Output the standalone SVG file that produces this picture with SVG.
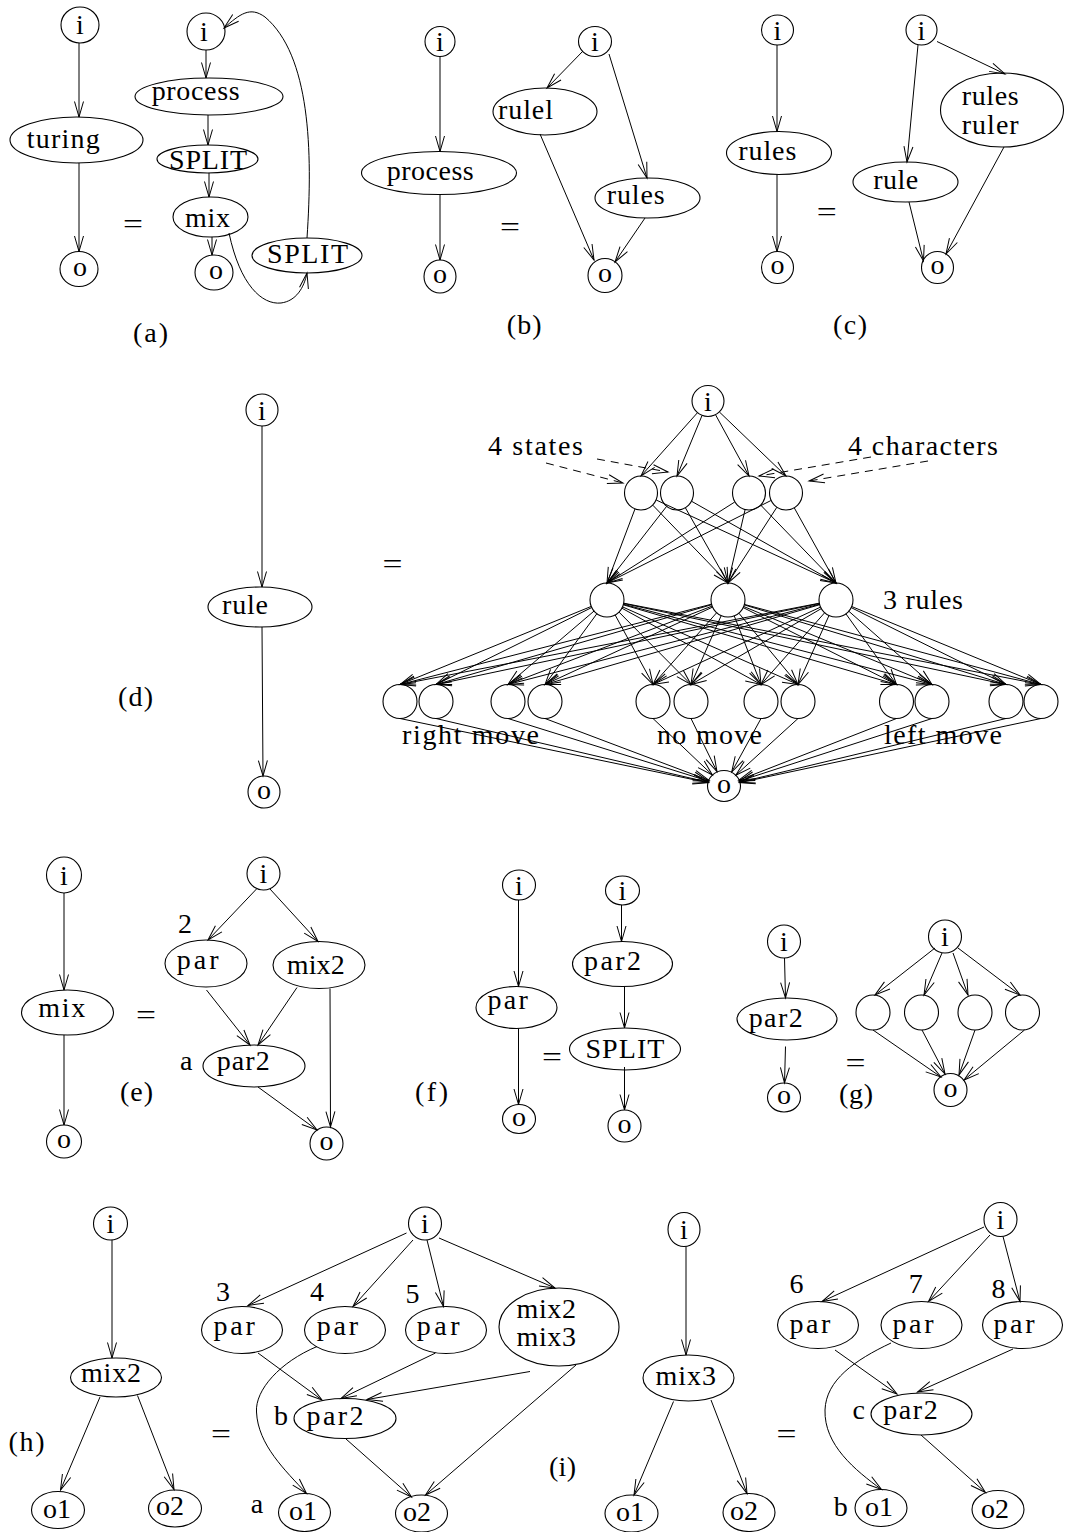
<svg xmlns="http://www.w3.org/2000/svg" width="1065" height="1532" viewBox="0 0 1065 1532">
<defs>
<style>
.n{fill:none;stroke:#000;stroke-width:1.1}
.e{fill:none;stroke:#000;stroke-width:1;marker-end:url(#ah)}
.d{stroke-dasharray:8 6}
text{font-family:"Liberation Serif","Times New Roman",serif;font-size:28px;fill:#000}
.c{text-anchor:middle}
.eq{font-size:28px;text-anchor:middle}
</style>
<marker id="ah" markerUnits="userSpaceOnUse" viewBox="0 0 16 10" markerWidth="16" markerHeight="10" refX="15.5" refY="5" orient="auto" overflow="visible">
<path d="M0,0.5 L15.5,5 L0,9.5" fill="none" stroke="#000" stroke-width="1"/>
</marker>
</defs>
<rect width="1065" height="1532" fill="#fff"/>

<g id="connectors">
<!-- (a) -->
<path class="e" d="M79,43 L79,117"/>
<path class="e" d="M79,163 L79,251.5"/>
<path class="e" d="M206,50 L206,78"/>
<path class="e" d="M208,115 L208,145"/>
<path class="e" d="M209,173 L209,197"/>
<path class="e" d="M212,237 L212,255"/>
<path class="e" d="M229,233 C240,285 262,305 281,303 C296,301 304,288 307,273"/>
<path class="e" d="M307,238 C313,150 310,55 265,17 C250,6 240,14 224,28"/>
<!-- (b) -->
<path class="e" d="M440,56.5 L440,151.5"/>
<path class="e" d="M440,194.5 L440,260"/>
<path class="e" d="M583,51 L547,88"/>
<path class="e" d="M609,54 L647,178"/>
<path class="e" d="M540,134 L594,260"/>
<path class="e" d="M645,218 L615,262"/>
<!-- (c) -->
<path class="e" d="M777,45 L777,131.5"/>
<path class="e" d="M777,174.5 L777,251.5"/>
<path class="e" d="M918,45 L907,162"/>
<path class="e" d="M937,41.5 L1005,74"/>
<path class="e" d="M909,202 L923.5,261"/>
<path class="e" d="M1004,147 L946,254"/>
<!-- (d) left -->
<path class="e" d="M262,426 L262,587"/>
<path class="e" d="M262,627 L263,776"/>
<!-- (d) network: i -> states/characters -->
<path class="e" d="M697.3,412.9 L641,476"/>
<path class="e" d="M701.9,415.8 L677,476"/>
<path class="e" d="M715.7,415 L749,476"/>
<path class="e" d="M719.5,412.1 L786,476"/>
<!-- top -> rules -->
<path class="e" d="M635,508.9 L607,583"/>
<path class="e" d="M652.8,505.2 L728,583"/>
<path class="e" d="M656.4,500.1 L836,583"/>
<path class="e" d="M666.6,506.4 L607,583"/>
<path class="e" d="M685.4,507.8 L728,583"/>
<path class="e" d="M691.8,501.4 L836,583"/>
<path class="e" d="M734.6,502.1 L607,583"/>
<path class="e" d="M745.1,509.6 L728,583"/>
<path class="e" d="M760.8,505.2 L836,583"/>
<path class="e" d="M770.8,500.6 L607,583"/>
<path class="e" d="M776.8,507.3 L728,583"/>
<path class="e" d="M794.3,507.9 L836,583"/>
<!-- rules -> moves -->
<path class="e" d="M591.3,606.4 L400,684.5"/>
<path class="e" d="M591.8,607.5 L436,684.5"/>
<path class="e" d="M594.1,611 L508,684.5"/>
<path class="e" d="M596.9,613.7 L545,684.5"/>
<path class="e" d="M615.1,614.9 L653,684.5"/>
<path class="e" d="M619,612.1 L691,684.5"/>
<path class="e" d="M621.9,608.2 L761,684.5"/>
<path class="e" d="M622.5,606.9 L798,684.5"/>
<path class="e" d="M623.3,604.8 L896.5,684.5"/>
<path class="e" d="M623.5,604.3 L932,684.5"/>
<path class="e" d="M623.6,603.5 L1006,684.5"/>
<path class="e" d="M623.7,603.2 L1041,684.5"/>
<path class="e" d="M711.5,604.2 L400,684.5"/>
<path class="e" d="M711.7,604.7 L436,684.5"/>
<path class="e" d="M712.1,606.1 L508,684.5"/>
<path class="e" d="M712.6,607.1 L545,684.5"/>
<path class="e" d="M716.7,612.7 L653,684.5"/>
<path class="e" d="M721.2,615.6 L691,684.5"/>
<path class="e" d="M734.2,615.8 L761,684.5"/>
<path class="e" d="M738.8,613.1 L798,684.5"/>
<path class="e" d="M743.2,607.6 L896.5,684.5"/>
<path class="e" d="M743.7,606.5 L932,684.5"/>
<path class="e" d="M744.3,604.9 L1006,684.5"/>
<path class="e" d="M744.4,604.4 L1041,684.5"/>
<path class="e" d="M819.3,603.2 L400,684.5"/>
<path class="e" d="M819.4,603.5 L436,684.5"/>
<path class="e" d="M819.5,604.2 L508,684.5"/>
<path class="e" d="M819.7,604.7 L545,684.5"/>
<path class="e" d="M820.6,607.1 L653,684.5"/>
<path class="e" d="M821.3,608.6 L691,684.5"/>
<path class="e" d="M824.7,612.7 L761,684.5"/>
<path class="e" d="M829,615.5 L798,684.5"/>
<path class="e" d="M845.9,613.8 L896.5,684.5"/>
<path class="e" d="M848.8,611.2 L932,684.5"/>
<path class="e" d="M851.2,607.6 L1006,684.5"/>
<path class="e" d="M851.7,606.5 L1041,684.5"/>
<!-- moves -> o -->
<path class="e" d="M400,718.5 L708.3,782.7"/>
<path class="e" d="M436,718.5 L708.4,782.3"/>
<path class="e" d="M508,718.5 L708.7,781.2"/>
<path class="e" d="M545,718.5 L709,780.4"/>
<path class="e" d="M653,718.5 L712.4,775"/>
<path class="e" d="M691,718.5 L717,771.6"/>
<path class="e" d="M761,718.5 L731.7,772"/>
<path class="e" d="M798,718.5 L735.8,775.2"/>
<path class="e" d="M896.5,718.5 L738.9,780.2"/>
<path class="e" d="M932,718.5 L739.2,781.1"/>
<path class="e" d="M1006,718.5 L739.6,782.3"/>
<path class="e" d="M1041,718.5 L739.6,782.7"/>
<!-- dashed pointers -->
<path class="e d" d="M546,463 L623,483"/>
<path class="e d" d="M597,459 L668,472"/>
<path class="e d" d="M928,461 L809,481"/>
<path class="e d" d="M871,457 L759,476"/>
<!-- (e) -->
<path class="e" d="M64,893 L64,990"/>
<path class="e" d="M64,1035 L64,1125"/>
<path class="e" d="M256.5,889 L208,940"/>
<path class="e" d="M270,889 L318,941.5"/>
<path class="e" d="M206.5,990 L250,1045"/>
<path class="e" d="M297,987.5 L258,1045"/>
<path class="e" d="M330,988.5 L330.5,1127"/>
<path class="e" d="M258,1087 L317,1130"/>
<!-- (f) -->
<path class="e" d="M518.5,900 L518.5,986.5"/>
<path class="e" d="M518.5,1028.5 L518.5,1104.5"/>
<path class="e" d="M621.5,905 L621.5,941.5"/>
<path class="e" d="M624.5,986.5 L624.5,1028"/>
<path class="e" d="M624.5,1067 L624.5,1110"/>
<!-- (g) -->
<path class="e" d="M784.5,958 L785.5,998"/>
<path class="e" d="M785.5,1046.5 L784.5,1083"/>
<path class="e" d="M935,948 L875,995"/>
<path class="e" d="M942,953 L924,995"/>
<path class="e" d="M953,953 L968,995"/>
<path class="e" d="M958,948 L1020,995"/>
<path class="e" d="M873,1030 L941,1077"/>
<path class="e" d="M922,1030 L945,1074"/>
<path class="e" d="M975,1030 L959,1075"/>
<path class="e" d="M1024.5,1030 L964,1080"/>
<!-- (h) -->
<path class="e" d="M112,1240 L112,1358"/>
<path class="e" d="M100,1397 L60.5,1490"/>
<path class="e" d="M137.5,1395.5 L174,1489.5"/>
<!-- (i) left -->
<path class="e" d="M406.5,1233 L248,1305.5"/>
<path class="e" d="M413,1240 L353,1306.5"/>
<path class="e" d="M427,1240 L443.5,1306.5"/>
<path class="e" d="M439,1238 L555,1288"/>
<path class="e" d="M258,1353 L322,1400"/>
<path class="e" d="M317,1346.5 C280,1362 255,1390 256.5,1412 C258,1445 285,1470 306.5,1493.5"/>
<path class="e" d="M435.5,1353 L341,1398.5"/>
<path class="e" d="M530,1371.5 L367,1399.5"/>
<path class="e" d="M346,1439 L411.5,1497"/>
<path class="e" d="M576,1365 L425.5,1495"/>
<!-- (i) right -->
<path class="e" d="M686,1246.5 L686,1355"/>
<path class="e" d="M673.5,1401.5 L634,1495"/>
<path class="e" d="M711,1400 L747,1493.5"/>
<path class="e" d="M984,1227 L822,1301.5"/>
<path class="e" d="M990,1235 L928.5,1301.5"/>
<path class="e" d="M1003,1236.5 L1020,1301.5"/>
<path class="e" d="M835,1350 L897,1394"/>
<path class="e" d="M1013,1349 L917.5,1392"/>
<path class="e" d="M891,1343 C855,1360 826,1380 825,1410 C824,1445 855,1470 881.5,1489.5"/>
<path class="e" d="M921,1435 L985.5,1492.5"/>
</g>

<!-- (a) -->
<g id="a_i"><ellipse class="n" cx="80" cy="25" rx="19" ry="18"/><text class="c" x="80" y="34">i</text></g>
<g id="a_turing"><ellipse class="n" cx="76.5" cy="140" rx="66.5" ry="23"/><text x="26.7" y="148" textLength="73" lengthAdjust="spacing">turing</text></g>
<g id="a_o"><ellipse class="n" cx="79" cy="269" rx="19" ry="17.5"/><text class="c" x="80" y="275.5">o</text></g>
<g id="a_i2"><ellipse class="n" cx="206" cy="31.5" rx="19" ry="18.5"/><text class="c" x="204" y="41">i</text></g>
<g id="a_process"><ellipse class="n" cx="209" cy="96.5" rx="74" ry="18.5"/><text x="151.7" y="100" textLength="88" lengthAdjust="spacing">process</text></g>
<g id="a_split"><ellipse class="n" cx="207.5" cy="159" rx="50.5" ry="14"/><text x="169" y="169" textLength="78" lengthAdjust="spacing">SPLIT</text></g>
<g id="a_mix"><ellipse class="n" cx="210.5" cy="217" rx="37.5" ry="20"/><text x="185" y="227" textLength="45" lengthAdjust="spacing">mix</text></g>
<g id="a_o2"><ellipse class="n" cx="214" cy="272.5" rx="19" ry="17.5"/><text class="c" x="216" y="279">o</text></g>
<g id="a_split2"><ellipse class="n" cx="307" cy="255.5" rx="55" ry="17.5"/><text x="267" y="263" textLength="81" lengthAdjust="spacing">SPLIT</text></g>

<!-- (b) -->
<g id="b_i"><ellipse class="n" cx="440" cy="41.5" rx="15" ry="15"/><text class="c" x="440" y="51">i</text></g>
<g id="b_process"><ellipse class="n" cx="439" cy="173" rx="77.5" ry="21.5"/><text x="386.7" y="180" textLength="87" lengthAdjust="spacing">process</text></g>
<g id="b_o"><ellipse class="n" cx="440" cy="276.5" rx="16" ry="16.5"/><text class="c" x="440" y="283">o</text></g>
<g id="b_i2"><ellipse class="n" cx="595" cy="41.5" rx="16.5" ry="15"/><text class="c" x="595" y="51">i</text></g>
<g id="b_rulel"><ellipse class="n" cx="545" cy="111.5" rx="52" ry="23.5"/><text x="498" y="118.5" textLength="55" lengthAdjust="spacing">rulel</text></g>
<g id="b_rules"><ellipse class="n" cx="647.5" cy="198" rx="52.5" ry="20"/><text x="606.7" y="204" textLength="58" lengthAdjust="spacing">rules</text></g>
<g id="b_o2"><ellipse class="n" cx="605" cy="275.5" rx="17" ry="17"/><text class="c" x="605" y="282">o</text></g>

<!-- (c) -->
<g id="c_i"><ellipse class="n" cx="777.5" cy="30" rx="16" ry="15"/><text class="c" x="777.5" y="39.5">i</text></g>
<g id="c_rules"><ellipse class="n" cx="779" cy="153" rx="52.5" ry="21.5"/><text x="738.3" y="159.5" textLength="58" lengthAdjust="spacing">rules</text></g>
<g id="c_o"><ellipse class="n" cx="777.5" cy="267.5" rx="16" ry="16"/><text class="c" x="777.5" y="274">o</text></g>
<g id="c_i2"><ellipse class="n" cx="921.5" cy="30" rx="15.5" ry="15"/><text class="c" x="921.5" y="39.5">i</text></g>
<g id="c_rulesruler"><ellipse class="n" cx="1002" cy="110" rx="61.5" ry="37"/><text x="961.7" y="105" textLength="57" lengthAdjust="spacing">rules</text><text x="961.7" y="133.5" textLength="57" lengthAdjust="spacing">ruler</text></g>
<g id="c_rule"><ellipse class="n" cx="905.5" cy="182" rx="52.5" ry="20"/><text x="873.3" y="188.5" textLength="45" lengthAdjust="spacing">rule</text></g>
<g id="c_o2"><ellipse class="n" cx="937.5" cy="267.5" rx="16" ry="16"/><text class="c" x="937.5" y="274">o</text></g>

<!-- (d) -->
<g id="d_i"><ellipse class="n" cx="262" cy="410" rx="16" ry="16"/><text class="c" x="262" y="419.5">i</text></g>
<g id="d_rule"><ellipse class="n" cx="260" cy="607" rx="52" ry="20"/><text x="222" y="614" textLength="46" lengthAdjust="spacing">rule</text></g>
<g id="d_o"><ellipse class="n" cx="264" cy="792" rx="16" ry="16"/><text class="c" x="264" y="798.5">o</text></g>
<g id="dn_i"><ellipse class="n" cx="708" cy="401" rx="16" ry="15.5"/><text class="c" x="708" y="410.5">i</text></g>
<g id="dn_s1"><ellipse class="n" cx="641" cy="493" rx="16.5" ry="17"/></g>
<g id="dn_s2"><ellipse class="n" cx="677" cy="493" rx="16.5" ry="17"/></g>
<g id="dn_c1"><ellipse class="n" cx="749" cy="493" rx="16.5" ry="17"/></g>
<g id="dn_c2"><ellipse class="n" cx="786" cy="493" rx="16.5" ry="17"/></g>
<g id="dn_r1"><ellipse class="n" cx="607" cy="600" rx="17" ry="17"/></g>
<g id="dn_r2"><ellipse class="n" cx="728" cy="600" rx="17" ry="17"/></g>
<g id="dn_r3"><ellipse class="n" cx="836" cy="600" rx="17" ry="17"/></g>
<g id="dn_m1"><ellipse class="n" cx="400" cy="701.5" rx="17" ry="17"/></g>
<g id="dn_m2"><ellipse class="n" cx="436" cy="701.5" rx="17" ry="17"/></g>
<g id="dn_m3"><ellipse class="n" cx="508" cy="701.5" rx="17" ry="17"/></g>
<g id="dn_m4"><ellipse class="n" cx="545" cy="701.5" rx="17" ry="17"/></g>
<g id="dn_m5"><ellipse class="n" cx="653" cy="701.5" rx="17" ry="17"/></g>
<g id="dn_m6"><ellipse class="n" cx="691" cy="701.5" rx="17" ry="17"/></g>
<g id="dn_m7"><ellipse class="n" cx="761" cy="701.5" rx="17" ry="17"/></g>
<g id="dn_m8"><ellipse class="n" cx="798" cy="701.5" rx="17" ry="17"/></g>
<g id="dn_m9"><ellipse class="n" cx="896.5" cy="701.5" rx="17" ry="17"/></g>
<g id="dn_m10"><ellipse class="n" cx="932" cy="701.5" rx="17" ry="17"/></g>
<g id="dn_m11"><ellipse class="n" cx="1006" cy="701.5" rx="17" ry="17"/></g>
<g id="dn_m12"><ellipse class="n" cx="1041" cy="701.5" rx="17" ry="17"/></g>
<g id="dn_o"><ellipse class="n" cx="724" cy="786" rx="16.5" ry="15.5"/><text class="c" x="724" y="792.5">o</text></g>

<!-- (e) -->
<g id="e_i"><ellipse class="n" cx="64" cy="875" rx="17.5" ry="18"/><text class="c" x="64" y="884.5">i</text></g>
<g id="e_mix"><ellipse class="n" cx="67.5" cy="1012.5" rx="46" ry="22.5"/><text x="38.3" y="1017" textLength="47" lengthAdjust="spacing">mix</text></g>
<g id="e_o"><ellipse class="n" cx="64" cy="1141.5" rx="17.5" ry="16.5"/><text class="c" x="64" y="1148">o</text></g>
<g id="e_i2"><ellipse class="n" cx="263.5" cy="873.5" rx="16.5" ry="16.5"/><text class="c" x="263.5" y="883">i</text></g>
<g id="e_par"><ellipse class="n" cx="206" cy="963.5" rx="41" ry="23.5"/><text x="176.7" y="968.5" textLength="42" lengthAdjust="spacing">par</text><text x="178" y="933">2</text></g>
<g id="e_mix2"><ellipse class="n" cx="319" cy="965" rx="46" ry="23.5"/><text x="286.7" y="973.5" textLength="58" lengthAdjust="spacing">mix2</text></g>
<g id="e_par2"><ellipse class="n" cx="254" cy="1066" rx="51" ry="21"/><text x="216.7" y="1070" textLength="53" lengthAdjust="spacing">par2</text><text x="180" y="1070">a</text></g>
<g id="e_o2"><ellipse class="n" cx="326.5" cy="1143.5" rx="16.5" ry="16.5"/><text class="c" x="326.5" y="1150">o</text></g>

<!-- (f) -->
<g id="f_i"><ellipse class="n" cx="519" cy="885" rx="16.5" ry="15"/><text class="c" x="519" y="894.5">i</text></g>
<g id="f_par"><ellipse class="n" cx="516.5" cy="1007.5" rx="40.5" ry="21"/><text x="487.4" y="1009" textLength="40.5" lengthAdjust="spacing">par</text></g>
<g id="f_o"><ellipse class="n" cx="519" cy="1119" rx="16.5" ry="14.5"/><text class="c" x="519" y="1125.5">o</text></g>
<g id="f_i2"><ellipse class="n" cx="622.5" cy="890.5" rx="17" ry="14.5"/><text class="c" x="622.5" y="900">i</text></g>
<g id="f_par2"><ellipse class="n" cx="622.5" cy="964" rx="50" ry="22.5"/><text x="584" y="970" textLength="57" lengthAdjust="spacing">par2</text></g>
<g id="f_split"><ellipse class="n" cx="625" cy="1049" rx="55.5" ry="21"/><text x="585.4" y="1058" textLength="79" lengthAdjust="spacing">SPLIT</text></g>
<g id="f_o2"><ellipse class="n" cx="624.5" cy="1126" rx="16.5" ry="16"/><text class="c" x="624.5" y="1132.5">o</text></g>

<!-- (g) -->
<g id="g_i"><ellipse class="n" cx="784" cy="941.5" rx="16.5" ry="16.5"/><text class="c" x="784" y="951">i</text></g>
<g id="g_par2"><ellipse class="n" cx="787" cy="1019" rx="50" ry="21"/><text x="748.7" y="1026.5" textLength="54" lengthAdjust="spacing">par2</text></g>
<g id="g_o"><ellipse class="n" cx="784" cy="1097.5" rx="16.5" ry="14.5"/><text class="c" x="784" y="1104">o</text></g>
<g id="g_i2"><ellipse class="n" cx="945" cy="936.5" rx="16.5" ry="16.5"/><text class="c" x="945" y="946">i</text></g>
<g id="g_n1"><ellipse class="n" cx="873" cy="1012.5" rx="17" ry="17.5"/></g>
<g id="g_n2"><ellipse class="n" cx="921.5" cy="1012.5" rx="17" ry="17.5"/></g>
<g id="g_n3"><ellipse class="n" cx="975" cy="1012.5" rx="17" ry="17.5"/></g>
<g id="g_n4"><ellipse class="n" cx="1022.5" cy="1012.5" rx="17" ry="17.5"/></g>
<g id="g_o2"><ellipse class="n" cx="950.5" cy="1090" rx="16.5" ry="16.5"/><text class="c" x="950.5" y="1096.5">o</text></g>

<!-- (h) -->
<g id="h_i"><ellipse class="n" cx="110.5" cy="1223.5" rx="17" ry="16.5"/><text class="c" x="110.5" y="1233">i</text></g>
<g id="h_mix2"><ellipse class="n" cx="116" cy="1377.5" rx="45.5" ry="19.5"/><text x="81" y="1382" textLength="60" lengthAdjust="spacing">mix2</text></g>
<g id="h_o1"><ellipse class="n" cx="58" cy="1510" rx="26.5" ry="18.5"/><text class="c" x="57" y="1517.5">o1</text></g>
<g id="h_o2"><ellipse class="n" cx="175" cy="1508.5" rx="26.5" ry="18.5"/><text class="c" x="170" y="1515">o2</text></g>

<!-- (i) left -->
<g id="il_i"><ellipse class="n" cx="425" cy="1223.5" rx="16.5" ry="16.5"/><text class="c" x="425" y="1233">i</text></g>
<g id="il_par3"><ellipse class="n" cx="242" cy="1330" rx="40.5" ry="23.5"/><text x="213.5" y="1335" textLength="41.3" lengthAdjust="spacing">par</text><text x="216" y="1301">3</text></g>
<g id="il_par4"><ellipse class="n" cx="345" cy="1330" rx="40.5" ry="23.5"/><text x="316.8" y="1335" textLength="41.3" lengthAdjust="spacing">par</text><text x="310" y="1301">4</text></g>
<g id="il_par5"><ellipse class="n" cx="446" cy="1330" rx="40.5" ry="23.5"/><text x="416.7" y="1335" textLength="43" lengthAdjust="spacing">par</text><text x="405.6" y="1303">5</text></g>
<g id="il_mix"><ellipse class="n" cx="559" cy="1327" rx="60" ry="39"/><text x="516.5" y="1318" textLength="59.5" lengthAdjust="spacing">mix2</text><text x="516.5" y="1346" textLength="59.5" lengthAdjust="spacing">mix3</text></g>
<g id="il_par2"><ellipse class="n" cx="345" cy="1418.5" rx="51" ry="20"/><text x="306.5" y="1425" textLength="57" lengthAdjust="spacing">par2</text><text x="274" y="1425">b</text></g>
<g id="il_o1"><ellipse class="n" cx="304.5" cy="1512.5" rx="26" ry="19"/><text class="c" x="303" y="1519.5">o1</text><text x="250.7" y="1513">a</text></g>
<g id="il_o2"><ellipse class="n" cx="421.5" cy="1513.5" rx="26" ry="18.5"/><text class="c" x="417" y="1520.5">o2</text></g>

<!-- (i) right -->
<g id="ir_i"><ellipse class="n" cx="684" cy="1229.5" rx="16" ry="17"/><text class="c" x="684" y="1239">i</text></g>
<g id="ir_mix3"><ellipse class="n" cx="688.5" cy="1378" rx="45.5" ry="23"/><text x="655.6" y="1385" textLength="60.4" lengthAdjust="spacing">mix3</text></g>
<g id="ir_o1"><ellipse class="n" cx="631.5" cy="1513.5" rx="26.5" ry="18.5"/><text class="c" x="630" y="1521">o1</text></g>
<g id="ir_o2"><ellipse class="n" cx="749" cy="1512.5" rx="26" ry="19"/><text class="c" x="744" y="1520">o2</text></g>
<g id="ir_i2"><ellipse class="n" cx="1000.5" cy="1219.5" rx="16.5" ry="17"/><text class="c" x="1000.5" y="1229">i</text></g>
<g id="ir_par6"><ellipse class="n" cx="818" cy="1325" rx="40.5" ry="23.5"/><text x="789.4" y="1333" textLength="41" lengthAdjust="spacing">par</text><text x="789.4" y="1293">6</text></g>
<g id="ir_par7"><ellipse class="n" cx="921.5" cy="1325" rx="40.5" ry="23.5"/><text x="892.5" y="1333" textLength="41" lengthAdjust="spacing">par</text><text x="908.8" y="1293">7</text></g>
<g id="ir_par8"><ellipse class="n" cx="1022.5" cy="1325" rx="40" ry="23.5"/><text x="993.5" y="1333" textLength="41" lengthAdjust="spacing">par</text><text x="991.4" y="1298">8</text></g>
<g id="ir_par2"><ellipse class="n" cx="921.5" cy="1414" rx="50.5" ry="21"/><text x="883.2" y="1419" textLength="54.6" lengthAdjust="spacing">par2</text><text x="852.5" y="1419">c</text></g>
<g id="ir_o1b"><ellipse class="n" cx="881" cy="1508" rx="26" ry="18.5"/><text class="c" x="879" y="1516">o1</text><text x="833.8" y="1516">b</text></g>
<g id="ir_o2b"><ellipse class="n" cx="998" cy="1509.5" rx="26" ry="19"/><text class="c" x="995" y="1517.5">o2</text></g>

<g id="labels">
<text x="488" y="455" textLength="95" lengthAdjust="spacing">4 states</text>
<text x="848" y="455" textLength="150" lengthAdjust="spacing">4 characters</text>
<text x="883" y="609" textLength="80" lengthAdjust="spacing">3 rules</text>
<text x="402" y="744" textLength="137" lengthAdjust="spacing">right move</text>
<text x="657" y="744" textLength="105" lengthAdjust="spacing">no move</text>
<text x="884" y="744" textLength="118" lengthAdjust="spacing">left move</text>
<text x="133" y="342" textLength="35" lengthAdjust="spacing">(a)</text>
<text x="506.7" y="334" textLength="35" lengthAdjust="spacing">(b)</text>
<text x="833" y="334" textLength="34" lengthAdjust="spacing">(c)</text>
<text x="118" y="706" textLength="35" lengthAdjust="spacing">(d)</text>
<text x="120" y="1101" textLength="33" lengthAdjust="spacing">(e)</text>
<text x="415" y="1101" textLength="33" lengthAdjust="spacing">(f)</text>
<text x="839" y="1103" textLength="34" lengthAdjust="spacing">(g)</text>
<text x="8.6" y="1451" textLength="36" lengthAdjust="spacing">(h)</text>
<text x="549" y="1476" textLength="27" lengthAdjust="spacing">(i)</text>
<text class="eq" x="133" y="233" textLength="20" lengthAdjust="spacingAndGlyphs">=</text>
<text class="eq" x="510" y="235.5" textLength="20" lengthAdjust="spacingAndGlyphs">=</text>
<text class="eq" x="826.7" y="220.5" textLength="20" lengthAdjust="spacingAndGlyphs">=</text>
<text class="eq" x="392.5" y="573" textLength="20" lengthAdjust="spacingAndGlyphs">=</text>
<text class="eq" x="146" y="1024" textLength="20" lengthAdjust="spacingAndGlyphs">=</text>
<text class="eq" x="552" y="1066" textLength="20" lengthAdjust="spacingAndGlyphs">=</text>
<text class="eq" x="855.5" y="1072" textLength="20" lengthAdjust="spacingAndGlyphs">=</text>
<text class="eq" x="221" y="1443" textLength="20" lengthAdjust="spacingAndGlyphs">=</text>
<text class="eq" x="786.5" y="1442.5" textLength="20" lengthAdjust="spacingAndGlyphs">=</text>
</g>
</svg>
